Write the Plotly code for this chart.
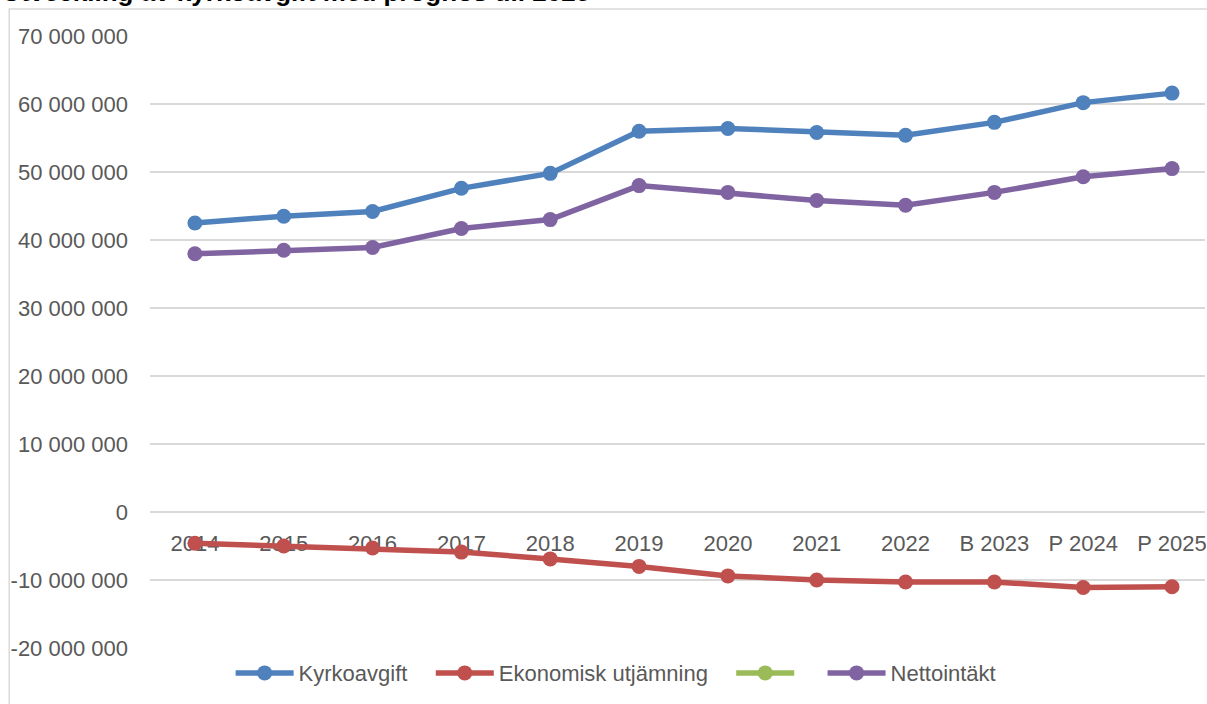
import plotly.graph_objects as go

years = ["2014", "2015", "2016", "2017", "2018", "2019", "2020", "2021", "2022", "B 2023", "P 2024", "P 2025"]
kyrkoavgift = [42.5e6, 43.5e6, 44.2e6, 47.6e6, 49.8e6, 56.0e6, 56.4e6, 55.8e6, 55.4e6, 57.3e6, 60.2e6, 61.6e6]
ekonomisk_utjamning = [-4.6e6, -5.0e6, -5.3e6, -5.9e6, -6.9e6, -8.0e6, -9.4e6, -10.0e6, -10.3e6, -10.3e6, -11.1e6, -11.0e6]
tom_serie = [None] * 12
nettointakt = [37.97e6, 38.5e6, 38.9e6, 41.7e6, 43.0e6, 48.0e6, 47.0e6, 45.8e6, 45.1e6, 47.0e6, 49.3e6, 50.5e6]

y_tickvals = [70e6, 60e6, 50e6, 40e6, 30e6, 20e6, 10e6, 0, -10e6, -20e6]
y_ticktext = ["70 000 000", "60 000 000", "50 000 000", "40 000 000", "30 000 000",
              "20 000 000", "10 000 000", "0", "-10 000 000", "-20 000 000"]

title_text = "<b>Utveckling av kyrkoavgift med prognos till 2025</b>"

FONT = "Liberation Sans, Arial, sans-serif"
TXT = "#595959"
NB = "\u00a0"

series = [
    ("Kyrkoavgift", kyrkoavgift, "#4F81BD", NB * 3),
    ("Ekonomisk utjämning", ekonomisk_utjamning, "#C0504D", NB * 3),
    ("", tom_serie, "#9BBB59", NB * 3),
    ("Nettointäkt", nettointakt, "#8064A2", ""),
]

fig = go.Figure()
for name, vals, col, pad in series:
    fig.add_trace(go.Scatter(
        x=years, y=vals, name=name + pad, mode="lines+markers",
        line=dict(color=col, width=5.5),
        marker=dict(color=col, size=15),
        showlegend=True,
    ))

W, H = 1207, 704
L, R, T, B = 150, 0, 36, 56
plot_h = H - T - B
plot_w = W - L - R

fig.update_layout(
    width=W, height=H,
    margin=dict(l=L, r=R, t=T, b=B),
    paper_bgcolor="white", plot_bgcolor="white",
    font=dict(family=FONT, size=22, color=TXT),
    showlegend=True,
    legend=dict(
        orientation="h", x=(617 - L) / plot_w, xanchor="center", y=-0.041, yanchor="middle",
        font=dict(family=FONT, size=22, color=TXT),
        itemwidth=58, tracegroupgap=0, bgcolor="rgba(0,0,0,0)",
    ),
    xaxis=dict(
        type="category", range=[-0.5056, 11.371],
        anchor="free", position=20 / 90,
        showgrid=False, zeroline=False, showline=False, ticks="",
        ticklabelstandoff=16, layer="below traces",
        tickfont=dict(family=FONT, size=22, color=TXT),
    ),
    yaxis=dict(
        range=[-20e6, 70e6], tickvals=y_tickvals, ticktext=y_ticktext,
        showgrid=True, gridcolor="#D9D9D9", gridwidth=1.5,
        zeroline=True, zerolinecolor="#D9D9D9", zerolinewidth=1.5,
        showline=False, ticks="", ticklabelstandoff=21,
        tickfont=dict(family=FONT, size=22, color=TXT),
    ),
    shapes=[dict(
        type="rect", xref="paper", yref="paper",
        x0=(9 - L) / plot_w, x1=1.2, y0=-0.3, y1=1 + (T - 9) / plot_h,
        line=dict(color="#D9D9D9", width=1.5), fillcolor="rgba(0,0,0,0)",
        layer="below",
    )],
    annotations=[dict(
        text=title_text, xref="paper", yref="paper",
        x=(0 - L) / plot_w, xanchor="left",
        y=1 + (T - 9) / plot_h, yanchor="bottom",
        showarrow=False, font=dict(family=FONT, size=26, color="black"),
    )],
)

fig.write_html(
    "out.html",
    config={"displayModeBar": False},
    post_script="document.body.style.margin='0';document.body.style.padding='0';",
)
